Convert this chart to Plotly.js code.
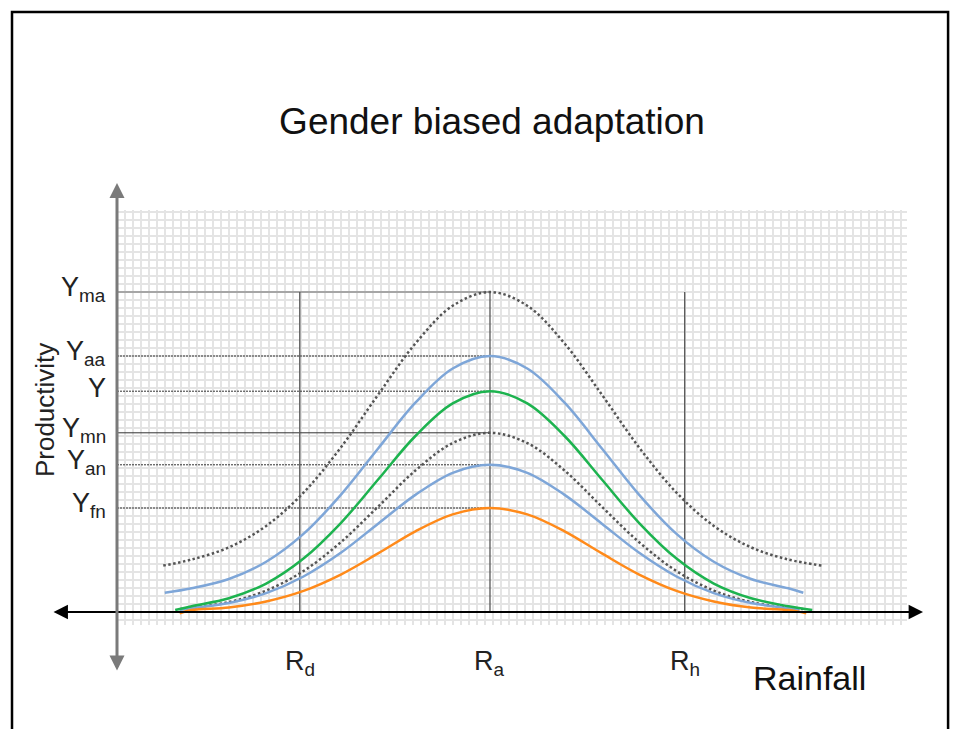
<!DOCTYPE html>
<html>
<head>
<meta charset="utf-8">
<script src="https://cdn.plot.ly/plotly-3.0.1.min.js"></script>
<style>
  html, body { margin: 0; padding: 0; background: #fff; }
  #chart { width: 961px; height: 729px; }
</style>
</head>
<body>
<div id="chart"></div>
<script>
// ---- Data ----
const titleText = 'Gender biased adaptation';
const xTitle = 'Rainfall';
const yTitle = 'Productivity';

const rLabels = ['R<sub>d</sub>', 'R<sub>a</sub>', 'R<sub>h</sub>'];
const rValues = [24.5, 50, 76.1];

const yLabels = ['Y<sub>ma</sub>', 'Y<sub>aa</sub>', 'Y', 'Y<sub>mn</sub>', 'Y<sub>an</sub>', 'Y<sub>fn</sub>'];
const yValues = [100, 80, 69, 56, 46, 32.5];
const yGuideDash = ['solid', 'dot', 'dot', 'solid', 'dot', 'dot'];

// curve: maximum yield, advantaged (top dotted)
const maHighX = [6.2, 10, 15, 20, 25, 30, 35, 40, 45, 50, 55, 60, 65, 70, 75, 80, 85, 90, 94.5];
const maHighY = [14.5, 16.4, 20.2, 26.9, 37.3, 51.4, 67.9, 83.9, 95.7, 100, 95.7, 83.9, 67.9, 51.4, 37.3, 26.9, 20.2, 16.4, 14.5];
// curve: upper blue
const aaHighX = [6.4, 10, 15, 20, 25, 30, 35, 40, 45, 50, 55, 60, 65, 70, 75, 80, 85, 90, 92.0];
const aaHighY = [6.0, 7.4, 10.3, 15.7, 24.4, 36.6, 51.1, 65.4, 76.1, 80, 76.1, 65.4, 51.1, 36.6, 24.4, 15.7, 10.3, 7.4, 6.0];
// curve: green
const yGreenX = [7.8, 10, 15, 20, 25, 30, 35, 40, 45, 50, 55, 60, 65, 70, 75, 80, 85, 90, 93.2];
const yGreenY = [0.6, 1.8, 4.3, 8.9, 16.7, 27.8, 41.4, 55.0, 65.2, 69, 65.2, 55.0, 41.4, 27.8, 16.7, 8.9, 4.3, 1.8, 0.6];
// curve: lower dotted
const mnLowX = [8.4, 10, 15, 20, 25, 30, 35, 40, 45, 50, 55, 60, 65, 70, 75, 80, 85, 90, 92.0];
const mnLowY = [0.9, 1.3, 3.1, 6.7, 12.8, 21.8, 32.9, 44.2, 52.8, 56, 52.8, 44.2, 32.9, 21.8, 12.8, 6.7, 3.1, 1.3, 0.9];
// curve: lower blue
const anLowX = [8.4, 10, 15, 20, 25, 30, 35, 40, 45, 50, 55, 60, 65, 70, 75, 80, 85, 90, 91.5];
const anLowY = [0.6, 1.2, 2.8, 5.9, 11.1, 18.5, 27.6, 36.6, 43.5, 46, 43.5, 36.6, 27.6, 18.5, 11.1, 5.9, 2.8, 1.2, 0.6];
// curve: orange
const fnLowX = [8.4, 10, 15, 20, 25, 30, 35, 40, 45, 50, 55, 60, 65, 70, 75, 80, 85, 90, 92.4];
const fnLowY = [-0.4, 0.6, 1.4, 3.3, 6.6, 11.7, 18.3, 25.2, 30.5, 32.5, 30.5, 25.2, 18.3, 11.7, 6.6, 3.3, 1.4, 0.6, -0.4];

// ---- Build figure ----
const FONT = 'Liberation Sans, Arial, Helvetica, sans-serif';
const traces = [];

// horizontal guide lines from the productivity axis to R_a
yValues.forEach((v, i) => {
  traces.push({
    x: [0, rValues[1]], y: [v, v], mode: 'lines', hoverinfo: 'skip', showlegend: false,
    line: i === 0 ? { color: '#a6a6a6', width: 2 } : { color: '#333', width: 1, dash: yGuideDash[i] === 'dot' ? '2px,1px' : 'solid' }
  });
});
// vertical guide lines
rValues.forEach((v) => {
  traces.push({
    x: [v, v], y: [0, yValues[0]], mode: 'lines', hoverinfo: 'skip', showlegend: false,
    line: { color: '#555', width: 1.3 }
  });
});

const curve = (x, y, color, dash, width) => ({
  x, y, mode: 'lines', hoverinfo: 'skip', showlegend: false,
  line: { color, width, shape: 'spline', smoothing: 1, dash }
});
traces.push(curve(maHighX, maHighY, '#555', '2.5px,2.5px', 2.5));
traces.push(curve(mnLowX, mnLowY, '#555', '2.5px,2.5px', 2.5));
traces.push(curve(aaHighX, aaHighY, '#7ea6d8', 'solid', 2.5));
traces.push(curve(anLowX, anLowY, '#7ea6d8', 'solid', 2.5));
traces.push(curve(yGreenX, yGreenY, '#1db34f', 'solid', 2.5));
traces.push(curve(fnLowX, fnLowY, '#ff8a1a', 'solid', 2.5));

const annotations = [];
// Rainfall axis: arrows at both ends (head at right tip, tail offset in pixels)
annotations.push({
  x: 1.0203, y: 0, xref: 'paper', yref: 'y', ax: -871, ay: 0, axref: 'pixel', ayref: 'pixel',
  text: '', showarrow: true, arrowside: 'end+start', arrowhead: 2, arrowsize: 1.6, arrowwidth: 1.8,
  arrowcolor: '#000', standoff: 0, startstandoff: 0
});
// Productivity axis: arrows at both ends
annotations.push({
  x: 0, y: 1.065, xref: 'paper', yref: 'paper', ax: 0, ay: 489, axref: 'pixel', ayref: 'pixel',
  text: '', showarrow: true, arrowside: 'end+start', arrowhead: 2, arrowsize: 1, arrowwidth: 3,
  arrowcolor: '#7a7a7a', standoff: 0, startstandoff: 0
});
// Y labels
yLabels.forEach((t, i) => {
  annotations.push({
    x: 0, y: yValues[i], xref: 'x', yref: 'y', text: t, showarrow: false,
    xanchor: 'right', yanchor: 'middle', xshift: -9, yshift: 3,
    font: { family: FONT, size: 27, color: '#222' }
  });
});
// R labels
rLabels.forEach((t, i) => {
  annotations.push({
    x: rValues[i], y: 0, xref: 'x', yref: 'y', text: t, showarrow: false,
    xanchor: 'center', yanchor: 'top', yshift: -32,
    font: { family: FONT, size: 27, color: '#222' }
  });
});
// axis titles
annotations.push({
  x: 0.877, y: -0.1277, xref: 'paper', yref: 'paper', text: xTitle, showarrow: false,
  xanchor: 'center', yanchor: 'middle', font: { family: FONT, size: 34, color: '#111' }
});
annotations.push({
  x: -0.0911, y: 0.518, xref: 'paper', yref: 'paper', text: yTitle, showarrow: false, textangle: -90,
  xanchor: 'center', yanchor: 'middle', font: { family: FONT, size: 26, color: '#222' }
});

const layout = {
  width: 961, height: 729,
  margin: { l: 117, r: 54, t: 210, b: 104, pad: 0 },
  paper_bgcolor: '#fff', plot_bgcolor: '#fff',
  title: {
    text: titleText, x: 0.512, xanchor: 'center', y: 0.834, yanchor: 'middle',
    xref: 'container', yref: 'container',
    font: { family: FONT, size: 37, color: '#111' }
  },
  xaxis: {
    range: [0, 105.9], showgrid: true, gridcolor: '#e4e4e4', gridwidth: 1.2,
    tick0: 0, dtick: 1.0724, showticklabels: false, ticks: '', zeroline: false, showline: false, fixedrange: true
  },
  yaxis: {
    range: [-4.0625, 125.625], showgrid: true, gridcolor: '#e4e4e4', gridwidth: 1.2,
    tick0: 0, dtick: 2.5, showticklabels: false, ticks: '', zeroline: false, showline: false, fixedrange: true
  },
  shapes: [{
    type: 'rect', xref: 'paper', yref: 'paper',
    x0: -0.1329, x1: 1.052, y0: -0.277, y1: 1.477,
    line: { color: '#000', width: 2.5 }, fillcolor: 'rgba(0,0,0,0)', layer: 'above'
  }],
  annotations
};

Plotly.newPlot('chart', traces, layout, { displayModeBar: false, staticPlot: true });
</script>
</body>
</html>
